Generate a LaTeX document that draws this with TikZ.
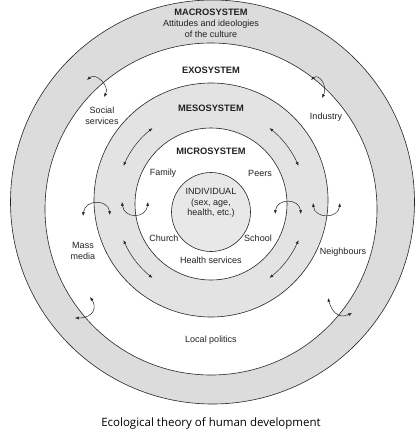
\documentclass[tikz,border=0pt]{standalone}
\usepackage{fontspec}
\setmainfont{Liberation Sans}
\newfontfamily\capfont{Open Sans}
\usetikzlibrary{arrows.meta}
\definecolor{macrogray}{HTML}{DCDCDC}
\definecolor{mesogray}{HTML}{E3E3E3}
\definecolor{indivgray}{HTML}{E8E8E8}
\definecolor{inkgray}{HTML}{222222}

\begin{document}
\begin{tikzpicture}[
  x=1pt, y=-1pt,
  font=\fontsize{9}{10.5}\selectfont,
  text=inkgray,
  ring/.style={draw=black!85, line width=0.6pt},
  sysname/.style={font=\fontsize{9.3}{11}\selectfont\bfseries},
  place/.style={align=center, inner sep=1pt},
  twoway/.style={{Latex[length=3.8pt,width=3pt]}-{Latex[length=3.8pt,width=3pt]},
    line width=0.5pt, black!85},
  ]
  \useasboundingbox (0,0) rectangle (418,436);

  % --- nested systems (outside in) ---
  \draw[ring, fill=macrogray] (212.5,202) circle[radius=202];
  \draw[ring, fill=white]     (211,209)   circle[radius=166];
  \draw[ring, fill=mesogray]  (211,200)   circle[radius=117];
  \draw[ring, fill=white]     (211,204)   circle[radius=76];
  \draw[ring, fill=indivgray] (211,212)   circle[radius=39.5];
  \coordinate (ctr) at (211,203);

  % --- system titles ---
  \node[sysname] (macro) at (211,12) {MACROSYSTEM};
  \node[place] (macrotxt) at (211,29) {Attitudes and ideologies\\of the culture};
  \node[sysname] (exo)   at (211,70)  {EXOSYSTEM};
  \node[sysname] (meso)  at (211,108) {MESOSYSTEM};
  \node[sysname] (micro) at (211,151) {MICROSYSTEM};
  \node[place] (indiv) at (211,203) {INDIVIDUAL\\(sex, age,\\health, etc.)};

  % --- microsystem settings ---
  \node[place] (family) at (163,173) {Family};
  \node[place] (peers)  at (260,173) {Peers};
  \node[place] (church) at (164,238) {Church};
  \node[place] (school) at (258,238) {School};
  \node[place] (health) at (211,260) {Health services};

  % --- exosystem settings ---
  \node[place] (social)   at (102,116) {Social\\services};
  \node[place] (industry) at (326,117) {Industry};
  \node[place] (mass)     at (83,251)  {Mass\\media};
  \node[place] (neigh)    at (343,252) {Neighbours};
  \node[place] (politics) at (211,340) {Local politics};

  % --- interactions across boundaries ---
  \draw[twoway] (87,80) .. controls (96,72) and (110,86) .. (104,97);
  \draw[twoway] (311,80) .. controls (319,73) and (328,86) .. (322,98);
  \draw[twoway] (90,297) .. controls (97,307) and (94,318) .. (75,318);
  \draw[twoway] (328,298) .. controls (331,309) and (337,320) .. (352,313);
  \draw[twoway] (83,216) .. controls (85,199) and (108,199) .. (110,215);
  \draw[twoway] (122,202) .. controls (124,219) and (146,219) .. (148,202);
  \draw[twoway] (275,214) .. controls (277,198) and (299,198) .. (301,214);
  \draw[twoway] (313,203) .. controls (315,219) and (338,219) .. (340,203);

  % --- interactions within the mesosystem ---
  \foreach \a in {23,128,203,308}
    \draw[twoway] ([shift={(ctr)}]-\a:95) arc[start angle=-\a, end angle=-\a-29, radius=95];

  \node[font=\capfont\fontsize{11.5}{13}\selectfont, text=black] (caption) at (211,423)
    {Ecological theory of human development};
\end{tikzpicture}
\end{document}
